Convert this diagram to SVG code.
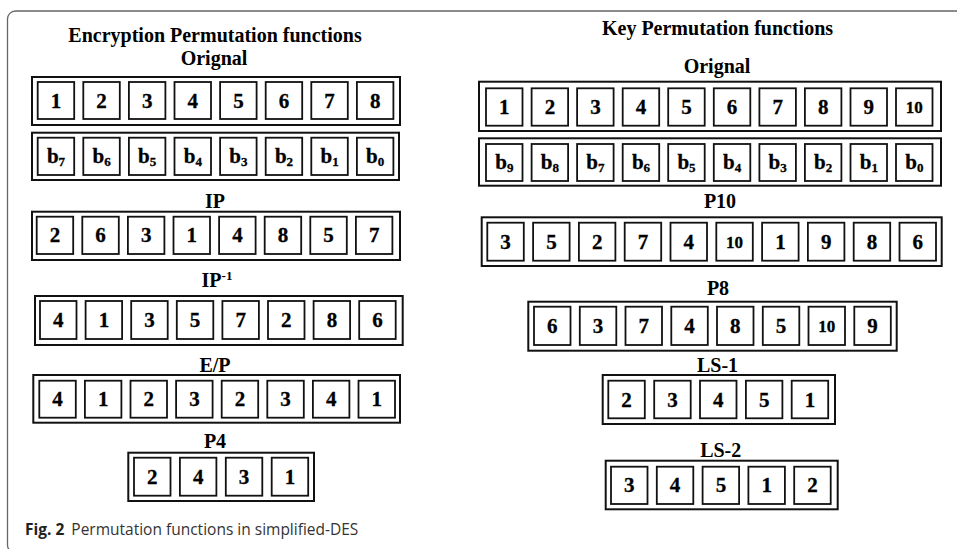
<svg xmlns="http://www.w3.org/2000/svg" width="957" height="549" viewBox="0 0 957 549">
<style>
.o{fill:#fff;stroke:#111;stroke-width:2}
.c{fill:#fff;stroke:#111;stroke-width:1.8}
.t{font-family:"Liberation Serif","Times New Roman",serif;font-weight:bold;font-size:21px;text-anchor:middle;fill:#000;stroke:#000;stroke-width:0.3}
.h{font-family:"Liberation Serif","Times New Roman",serif;font-weight:bold;font-size:20px;text-anchor:middle;fill:#000}
.s{font-size:17px}
.sub{font-size:13px}
.sup{font-size:13px}
.cap{font-family:"Open Sans","Noto Sans",sans-serif;font-size:15.5px;fill:#333}
</style>
<rect width="957" height="549" fill="#fff"/>
<rect x="7.5" y="11" width="1000" height="542" rx="8" fill="none" stroke="#666" stroke-width="1.3"/>

<g id="enc-title">
<text class="h" x="215" y="41.7">Encryption Permutation functions</text>
<text class="h" x="214" y="65">Orignal</text>
</g>

<g id="enc-orig">
<rect class="o" x="32" y="77" width="368" height="48"/>
<rect class="c" x="37.7" y="82" width="36.5" height="37"/>
<rect class="c" x="83.3" y="82" width="36.5" height="37"/>
<rect class="c" x="128.9" y="82" width="36.5" height="37"/>
<rect class="c" x="174.5" y="82" width="36.5" height="37"/>
<rect class="c" x="220.1" y="82" width="36.5" height="37"/>
<rect class="c" x="265.7" y="82" width="36.5" height="37"/>
<rect class="c" x="311.3" y="82" width="36.5" height="37"/>
<rect class="c" x="356.9" y="82" width="36.5" height="37"/>
<text class="t" x="56" y="107.5">1</text>
<text class="t" x="101.6" y="107.5">2</text>
<text class="t" x="147.2" y="107.5">3</text>
<text class="t" x="192.8" y="107.5">4</text>
<text class="t" x="238.4" y="107.5">5</text>
<text class="t" x="284" y="107.5">6</text>
<text class="t" x="329.6" y="107.5">7</text>
<text class="t" x="375.2" y="107.5">8</text>
</g>

<g id="enc-bits">
<rect class="o" x="32" y="132.7" width="367" height="47.3"/>
<rect class="c" x="37.7" y="137.7" width="36.5" height="37.3"/>
<rect class="c" x="83.3" y="137.7" width="36.5" height="37.3"/>
<rect class="c" x="128.9" y="137.7" width="36.5" height="37.3"/>
<rect class="c" x="174.5" y="137.7" width="36.5" height="37.3"/>
<rect class="c" x="220.1" y="137.7" width="36.5" height="37.3"/>
<rect class="c" x="265.7" y="137.7" width="36.5" height="37.3"/>
<rect class="c" x="311.3" y="137.7" width="36.5" height="37.3"/>
<rect class="c" x="356.9" y="137.7" width="36.5" height="37.3"/>
<text class="t" x="56" y="163">b<tspan class="sub" dy="3">7</tspan></text>
<text class="t" x="101.6" y="163">b<tspan class="sub" dy="3">6</tspan></text>
<text class="t" x="147.2" y="163">b<tspan class="sub" dy="3">5</tspan></text>
<text class="t" x="192.8" y="163">b<tspan class="sub" dy="3">4</tspan></text>
<text class="t" x="238.4" y="163">b<tspan class="sub" dy="3">3</tspan></text>
<text class="t" x="284" y="163">b<tspan class="sub" dy="3">2</tspan></text>
<text class="t" x="329.6" y="163">b<tspan class="sub" dy="3">1</tspan></text>
<text class="t" x="375.2" y="163">b<tspan class="sub" dy="3">0</tspan></text>
</g>

<g id="ip">
<text class="h" x="215" y="208">IP</text>
<rect class="o" x="32" y="211.7" width="368" height="48.3"/>
<rect class="c" x="36.7" y="216.7" width="36.5" height="37.3"/>
<rect class="c" x="82.3" y="216.7" width="36.5" height="37.3"/>
<rect class="c" x="127.9" y="216.7" width="36.5" height="37.3"/>
<rect class="c" x="173.5" y="216.7" width="36.5" height="37.3"/>
<rect class="c" x="219.1" y="216.7" width="36.5" height="37.3"/>
<rect class="c" x="264.7" y="216.7" width="36.5" height="37.3"/>
<rect class="c" x="310.3" y="216.7" width="36.5" height="37.3"/>
<rect class="c" x="355.9" y="216.7" width="36.5" height="37.3"/>
<text class="t" x="55" y="242.3">2</text>
<text class="t" x="100.6" y="242.3">6</text>
<text class="t" x="146.2" y="242.3">3</text>
<text class="t" x="191.8" y="242.3">1</text>
<text class="t" x="237.4" y="242.3">4</text>
<text class="t" x="283" y="242.3">8</text>
<text class="t" x="328.6" y="242.3">5</text>
<text class="t" x="374.2" y="242.3">7</text>
</g>

<g id="ip-inv">
<text class="h" x="217" y="287">IP<tspan class="sup" dy="-7">-1</tspan></text>
<rect class="o" x="35" y="296" width="367.7" height="49"/>
<rect class="c" x="40" y="301" width="36.5" height="38"/>
<rect class="c" x="85.6" y="301" width="36.5" height="38"/>
<rect class="c" x="131.2" y="301" width="36.5" height="38"/>
<rect class="c" x="176.8" y="301" width="36.5" height="38"/>
<rect class="c" x="222.4" y="301" width="36.5" height="38"/>
<rect class="c" x="268" y="301" width="36.5" height="38"/>
<rect class="c" x="313.6" y="301" width="36.5" height="38"/>
<rect class="c" x="359.2" y="301" width="36.5" height="38"/>
<text class="t" x="58.3" y="327">4</text>
<text class="t" x="103.9" y="327">1</text>
<text class="t" x="149.5" y="327">3</text>
<text class="t" x="195.1" y="327">5</text>
<text class="t" x="240.7" y="327">7</text>
<text class="t" x="286.3" y="327">2</text>
<text class="t" x="331.9" y="327">8</text>
<text class="t" x="377.5" y="327">6</text>
</g>

<g id="ep">
<text class="h" x="215" y="371.7">E/P</text>
<rect class="o" x="33.3" y="375" width="366.7" height="47.7"/>
<rect class="c" x="39.3" y="380.7" width="36.5" height="37"/>
<rect class="c" x="84.9" y="380.7" width="36.5" height="37"/>
<rect class="c" x="130.5" y="380.7" width="36.5" height="37"/>
<rect class="c" x="176.1" y="380.7" width="36.5" height="37"/>
<rect class="c" x="221.7" y="380.7" width="36.5" height="37"/>
<rect class="c" x="267.3" y="380.7" width="36.5" height="37"/>
<rect class="c" x="312.9" y="380.7" width="36.5" height="37"/>
<rect class="c" x="358.5" y="380.7" width="36.5" height="37"/>
<text class="t" x="57.6" y="406.2">4</text>
<text class="t" x="103.2" y="406.2">1</text>
<text class="t" x="148.8" y="406.2">2</text>
<text class="t" x="194.4" y="406.2">3</text>
<text class="t" x="240" y="406.2">2</text>
<text class="t" x="285.6" y="406.2">3</text>
<text class="t" x="331.2" y="406.2">4</text>
<text class="t" x="376.8" y="406.2">1</text>
</g>

<g id="p4">
<text class="h" x="215" y="447.7">P4</text>
<rect class="o" x="128.3" y="452.7" width="185.7" height="48.3"/>
<rect class="c" x="134" y="457.7" width="36.5" height="38"/>
<rect class="c" x="179.9" y="457.7" width="36.5" height="38"/>
<rect class="c" x="225.8" y="457.7" width="36.5" height="38"/>
<rect class="c" x="271.7" y="457.7" width="36.5" height="38"/>
<text class="t" x="152.3" y="483.7">2</text>
<text class="t" x="198.2" y="483.7">4</text>
<text class="t" x="244.1" y="483.7">3</text>
<text class="t" x="290" y="483.7">1</text>
</g>

<g id="key-title">
<text class="h" x="717.5" y="35">Key Permutation functions</text>
<text class="h" x="717" y="72.7">Orignal</text>
</g>

<g id="key-orig">
<rect class="o" x="479" y="81.7" width="462" height="49.3"/>
<rect class="c" x="486" y="88.3" width="36.5" height="37.4"/>
<rect class="c" x="531.6" y="88.3" width="36.5" height="37.4"/>
<rect class="c" x="577.1" y="88.3" width="36.5" height="37.4"/>
<rect class="c" x="622.7" y="88.3" width="36.5" height="37.4"/>
<rect class="c" x="668.2" y="88.3" width="36.5" height="37.4"/>
<rect class="c" x="713.8" y="88.3" width="36.5" height="37.4"/>
<rect class="c" x="759.4" y="88.3" width="36.5" height="37.4"/>
<rect class="c" x="804.9" y="88.3" width="36.5" height="37.4"/>
<rect class="c" x="850.5" y="88.3" width="36.5" height="37.4"/>
<rect class="c" x="896" y="88.3" width="36.5" height="37.4"/>
<text class="t" x="504.3" y="114">1</text>
<text class="t" x="549.9" y="114">2</text>
<text class="t" x="595.4" y="114">3</text>
<text class="t" x="641" y="114">4</text>
<text class="t" x="686.5" y="114">5</text>
<text class="t" x="732.1" y="114">6</text>
<text class="t" x="777.7" y="114">7</text>
<text class="t" x="823.2" y="114">8</text>
<text class="t" x="868.8" y="114">9</text>
<text class="t s" x="914.3" y="113">10</text>
</g>

<g id="key-bits">
<rect class="o" x="479" y="138.3" width="462" height="47.4"/>
<rect class="c" x="486" y="144" width="36.5" height="37"/>
<rect class="c" x="531.6" y="144" width="36.5" height="37"/>
<rect class="c" x="577.1" y="144" width="36.5" height="37"/>
<rect class="c" x="622.7" y="144" width="36.5" height="37"/>
<rect class="c" x="668.2" y="144" width="36.5" height="37"/>
<rect class="c" x="713.8" y="144" width="36.5" height="37"/>
<rect class="c" x="759.4" y="144" width="36.5" height="37"/>
<rect class="c" x="804.9" y="144" width="36.5" height="37"/>
<rect class="c" x="850.5" y="144" width="36.5" height="37"/>
<rect class="c" x="896" y="144" width="36.5" height="37"/>
<text class="t" x="504.3" y="169">b<tspan class="sub" dy="3">9</tspan></text>
<text class="t" x="549.9" y="169">b<tspan class="sub" dy="3">8</tspan></text>
<text class="t" x="595.4" y="169">b<tspan class="sub" dy="3">7</tspan></text>
<text class="t" x="641" y="169">b<tspan class="sub" dy="3">6</tspan></text>
<text class="t" x="686.5" y="169">b<tspan class="sub" dy="3">5</tspan></text>
<text class="t" x="732.1" y="169">b<tspan class="sub" dy="3">4</tspan></text>
<text class="t" x="777.7" y="169">b<tspan class="sub" dy="3">3</tspan></text>
<text class="t" x="823.2" y="169">b<tspan class="sub" dy="3">2</tspan></text>
<text class="t" x="868.8" y="169">b<tspan class="sub" dy="3">1</tspan></text>
<text class="t" x="914.3" y="169">b<tspan class="sub" dy="3">0</tspan></text>
</g>

<g id="p10">
<text class="h" x="720" y="208.3">P10</text>
<rect class="o" x="481.7" y="217.3" width="460" height="48.7"/>
<rect class="c" x="487.3" y="222.7" width="36.5" height="38"/>
<rect class="c" x="533.1" y="222.7" width="36.5" height="38"/>
<rect class="c" x="578.9" y="222.7" width="36.5" height="38"/>
<rect class="c" x="624.7" y="222.7" width="36.5" height="38"/>
<rect class="c" x="670.5" y="222.7" width="36.5" height="38"/>
<rect class="c" x="716.3" y="222.7" width="36.5" height="38"/>
<rect class="c" x="762.1" y="222.7" width="36.5" height="38"/>
<rect class="c" x="807.9" y="222.7" width="36.5" height="38"/>
<rect class="c" x="853.7" y="222.7" width="36.5" height="38"/>
<rect class="c" x="899.5" y="222.7" width="36.5" height="38"/>
<text class="t" x="505.6" y="248.7">3</text>
<text class="t" x="551.4" y="248.7">5</text>
<text class="t" x="597.2" y="248.7">2</text>
<text class="t" x="643" y="248.7">7</text>
<text class="t" x="688.8" y="248.7">4</text>
<text class="t s" x="734.6" y="247.7">10</text>
<text class="t" x="780.4" y="248.7">1</text>
<text class="t" x="826.2" y="248.7">9</text>
<text class="t" x="872" y="248.7">8</text>
<text class="t" x="917.8" y="248.7">6</text>
</g>

<g id="p8">
<text class="h" x="718" y="295">P8</text>
<rect class="o" x="528.3" y="301.7" width="368.4" height="49"/>
<rect class="c" x="534" y="306.7" width="36.5" height="38.3"/>
<rect class="c" x="579.8" y="306.7" width="36.5" height="38.3"/>
<rect class="c" x="625.5" y="306.7" width="36.5" height="38.3"/>
<rect class="c" x="671.3" y="306.7" width="36.5" height="38.3"/>
<rect class="c" x="717" y="306.7" width="36.5" height="38.3"/>
<rect class="c" x="762.8" y="306.7" width="36.5" height="38.3"/>
<rect class="c" x="808.5" y="306.7" width="36.5" height="38.3"/>
<rect class="c" x="854.3" y="306.7" width="36.5" height="38.3"/>
<text class="t" x="552.3" y="332.8">6</text>
<text class="t" x="598.1" y="332.8">3</text>
<text class="t" x="643.8" y="332.8">7</text>
<text class="t" x="689.6" y="332.8">4</text>
<text class="t" x="735.3" y="332.8">8</text>
<text class="t" x="781.1" y="332.8">5</text>
<text class="t s" x="826.8" y="331.8">10</text>
<text class="t" x="872.6" y="332.8">9</text>
</g>

<g id="ls1">
<text class="h" x="717.5" y="371.7">LS-1</text>
<rect class="o" x="602.7" y="375" width="232.3" height="49"/>
<rect class="c" x="608.3" y="380.7" width="36.5" height="37.6"/>
<rect class="c" x="654.2" y="380.7" width="36.5" height="37.6"/>
<rect class="c" x="700" y="380.7" width="36.5" height="37.6"/>
<rect class="c" x="745.9" y="380.7" width="36.5" height="37.6"/>
<rect class="c" x="791.7" y="380.7" width="36.5" height="37.6"/>
<text class="t" x="626.6" y="406.5">2</text>
<text class="t" x="672.5" y="406.5">3</text>
<text class="t" x="718.3" y="406.5">4</text>
<text class="t" x="764.2" y="406.5">5</text>
<text class="t" x="810" y="406.5">1</text>
</g>

<g id="ls2">
<text class="h" x="720.7" y="457.3">LS-2</text>
<rect class="o" x="605.7" y="460.7" width="232" height="48.6"/>
<rect class="c" x="611" y="466.7" width="36.5" height="37.3"/>
<rect class="c" x="656.8" y="466.7" width="36.5" height="37.3"/>
<rect class="c" x="702.6" y="466.7" width="36.5" height="37.3"/>
<rect class="c" x="748.4" y="466.7" width="36.5" height="37.3"/>
<rect class="c" x="794.2" y="466.7" width="36.5" height="37.3"/>
<text class="t" x="629.3" y="492.3">3</text>
<text class="t" x="675.1" y="492.3">4</text>
<text class="t" x="720.9" y="492.3">5</text>
<text class="t" x="766.7" y="492.3">1</text>
<text class="t" x="812.5" y="492.3">2</text>
</g>

<g id="caption">
<text class="cap" x="25" y="535"><tspan font-weight="bold" fill="#222">Fig. 2</tspan><tspan dx="7">Permutation functions in simplified-DES</tspan></text>
</g>
</svg>
